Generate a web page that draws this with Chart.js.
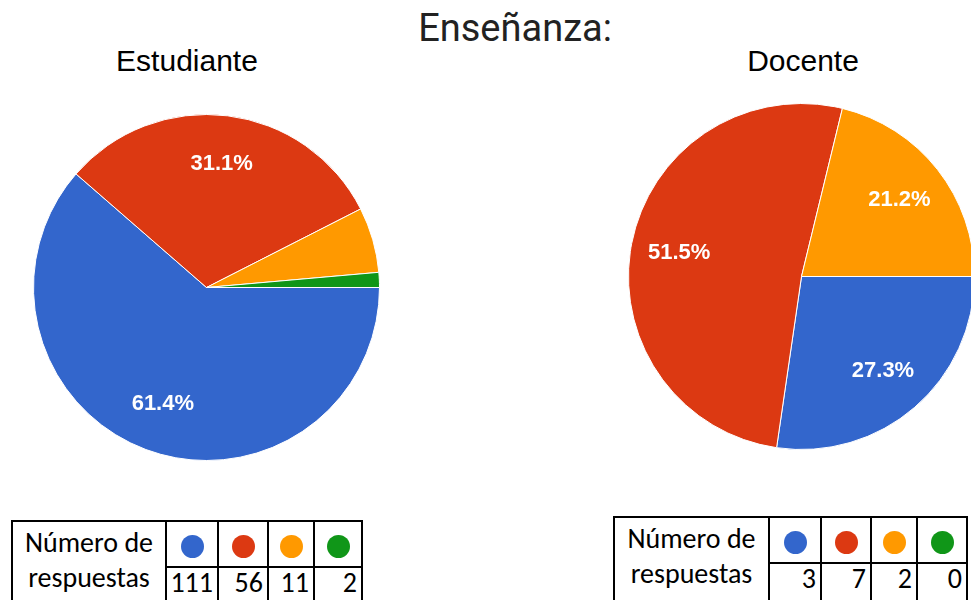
<!DOCTYPE html>
<html lang="es">
<head>
<meta charset="utf-8">
<script src="https://cdn.jsdelivr.net/npm/chart.js"></script>
<style>
  html, body { margin: 0; padding: 0; background: #fff; }
  body { width: 971px; height: 600px; position: relative; overflow: hidden; }
  .titulo { position: absolute; left: 0; width: 1030px; top: 6px; text-align: center;
    font: 38px Roboto, Arial, sans-serif; color: #222; white-space: nowrap; }
  .sub { position: absolute; top: 44px; font: 30px "Liberation Sans", Arial, sans-serif; color: #000;
    text-align: center; width: 300px; white-space: nowrap; }
  canvas { position: absolute; }
  table.resp { position: absolute; border-collapse: collapse; table-layout: fixed;
    font: 28px Carlito, Lato, "Liberation Sans", sans-serif; color: #000; }
  table.resp td { border: 2px solid #000; padding: 0; }
  table.resp td.lbl { text-align: center; vertical-align: top; line-height: 35px; padding-top: 3px; }
  table.resp td.dot { text-align: center; height: 44px; }
  table.resp td.num { text-align: right; padding-right: 4px; height: 44px; vertical-align: top; line-height: 29px; }
  .punto { display: inline-block; width: 23px; height: 23px; border-radius: 50%; vertical-align: middle; }
</style>
</head>
<body>
<div class="titulo">Enseñanza:</div>
<div class="sub" style="left:37px">Estudiante</div>
<div class="sub" style="left:653px">Docente</div>
<canvas id="pieEstudiante" width="347" height="347" style="left:33px;top:114px"></canvas>
<canvas id="pieDocente" width="347" height="347" style="left:628px;top:103px"></canvas>
<div id="tablaEstudiante"></div>
<div id="tablaDocente"></div>
<script>
// ---------- Datos ----------
const categorias = ["Azul", "Rojo", "Naranja", "Verde"];
const colores = ["#3366CC", "#DC3912", "#FF9900", "#109618"];

// porcentajes que muestran las tortas
const pctEstudiante = [61.4, 31.1, 6.1, 1.4];
const pctDocente = [27.3, 51.5, 21.2, 0];

// número de respuestas de las tablas
const respEstudiante = [111, 56, 11, 2];
const respDocente = [3, 7, 2, 0];

// ---------- Etiquetas de porcentaje dentro de la torta ----------
const etiquetasPct = {
  id: "etiquetasPct",
  afterDatasetsDraw(chart) {
    const ctx = chart.ctx;
    const meta = chart.getDatasetMeta(0);
    const datos = chart.data.datasets[0].data;
    const total = datos.reduce((a, b) => a + b, 0);
    ctx.save();
    ctx.fillStyle = "#fff";
    ctx.font = "bold 22px 'Liberation Sans', Arial, sans-serif";
    ctx.textAlign = "center";
    ctx.textBaseline = "middle";
    meta.data.forEach((arc, i) => {
      const v = datos[i];
      if (!v || v / total < 0.1) return; // rebanadas chicas sin texto
      const { x, y, startAngle, endAngle, outerRadius } = arc.getProps(
        ["x", "y", "startAngle", "endAngle", "outerRadius"], true);
      const mid = (startAngle + endAngle) / 2;
      const r = outerRadius * 0.72;
      ctx.fillText(v.toFixed(1) + "%", x + Math.cos(mid) * r, y + Math.sin(mid) * r);
    });
    ctx.restore();
  },
};

function hacerTorta(id, valores) {
  return new Chart(document.getElementById(id), {
    type: "pie",
    data: {
      labels: categorias,
      datasets: [{
        data: valores,
        backgroundColor: colores,
        borderColor: "#fff",
        borderWidth: 1,
      }],
    },
    options: {
      responsive: false,
      animation: false,
      rotation: 90, // empieza a las 3 en punto, sentido horario
      layout: { padding: 0 },
      plugins: { legend: { display: false }, tooltip: { enabled: false } },
    },
    plugins: [etiquetasPct],
  });
}

hacerTorta("pieEstudiante", pctEstudiante);
hacerTorta("pieDocente", pctDocente);

// ---------- Tablas ----------
function hacerTabla(hostId, valores, left, top, anchos) {
  const host = document.getElementById(hostId);
  const t = document.createElement("table");
  t.className = "resp";
  t.style.left = left + "px";
  t.style.top = top + "px";
  let html = "<colgroup>" + anchos.map((w) => `<col style="width:${w}px">`).join("") + "</colgroup>";
  html += `<tr><td class="lbl" rowspan="2">Número de<br>respuestas</td>`;
  html += colores.map((c) => `<td class="dot"><span class="punto" style="background:${c}"></span></td>`).join("");
  html += "</tr><tr>";
  html += valores.map((v) => `<td class="num">${v}</td>`).join("");
  html += "</tr>";
  t.innerHTML = html;
  t.style.width = anchos.reduce((a, b) => a + b, 0) + "px";
  host.appendChild(t);
}

hacerTabla("tablaEstudiante", respEstudiante, 11, 520, [154, 52, 50, 46, 48]);
hacerTabla("tablaDocente", respDocente, 613, 516, [155, 52, 50, 46, 50]);
</script>
</body>
</html>
